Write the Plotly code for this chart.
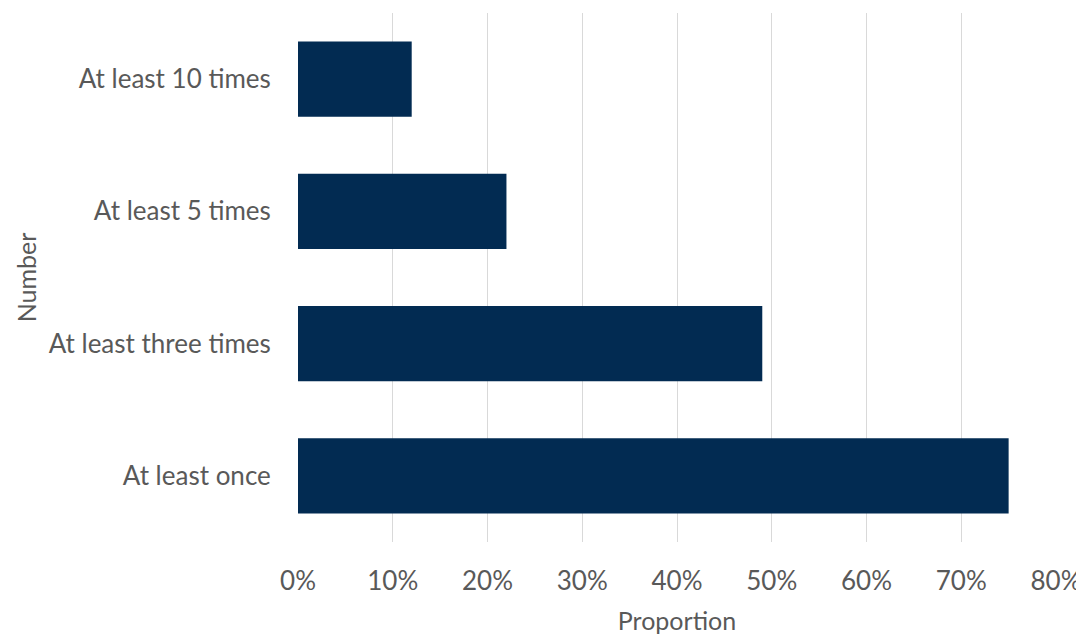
import plotly.graph_objects as go

categories = ["At least once", "At least three times", "At least 5 times", "At least 10 times"]
proportions = [0.75, 0.49, 0.22, 0.12]
x_ticks = [0, 0.1, 0.2, 0.3, 0.4, 0.5, 0.6, 0.7, 0.8]
x_tick_labels = ["0%", "10%", "20%", "30%", "40%", "50%", "60%", "70%", "80%"]

FONT = "Lato"
GREY = "#595959"
FS = 26

fig = go.Figure(go.Bar(
    y=categories, x=proportions, orientation="h",
    marker=dict(color="#022B52", line=dict(width=0)),
))

# page body has an 8px margin, so the figure is 8px smaller and margins shifted
fig.update_layout(
    width=1076, height=627,
    margin=dict(l=290, r=28, t=5, b=93),
    paper_bgcolor="white", plot_bgcolor="white",
    bargap=0.43,
    showlegend=False,
    font=dict(family=FONT, color=GREY, size=FS),
)
fig.update_xaxes(
    automargin=False,
    range=[0, 0.8], tickvals=x_ticks, ticktext=x_tick_labels,
    showgrid=True, gridcolor="#D9D9D9", gridwidth=1,
    zeroline=False, showline=False,
    ticks="outside", ticklen=16, tickcolor="rgba(0,0,0,0)",
    tickfont=dict(size=FS, color=GREY, family=FONT),
    title=dict(text="Proportion", font=dict(size=FS - 1, color=GREY, family=FONT), standoff=19),
)
fig.update_yaxes(
    automargin=False,
    categoryorder="array", categoryarray=categories,
    range=[-0.5, 3.5],
    showgrid=False, zeroline=False, showline=False,
    ticks="outside", ticklen=21, tickcolor="rgba(0,0,0,0)",
    tickfont=dict(size=FS, color=GREY, family=FONT),
    title=dict(text="Number", font=dict(size=FS - 1, color=GREY, family=FONT), standoff=4),
)
fig.write_html("out.html")
